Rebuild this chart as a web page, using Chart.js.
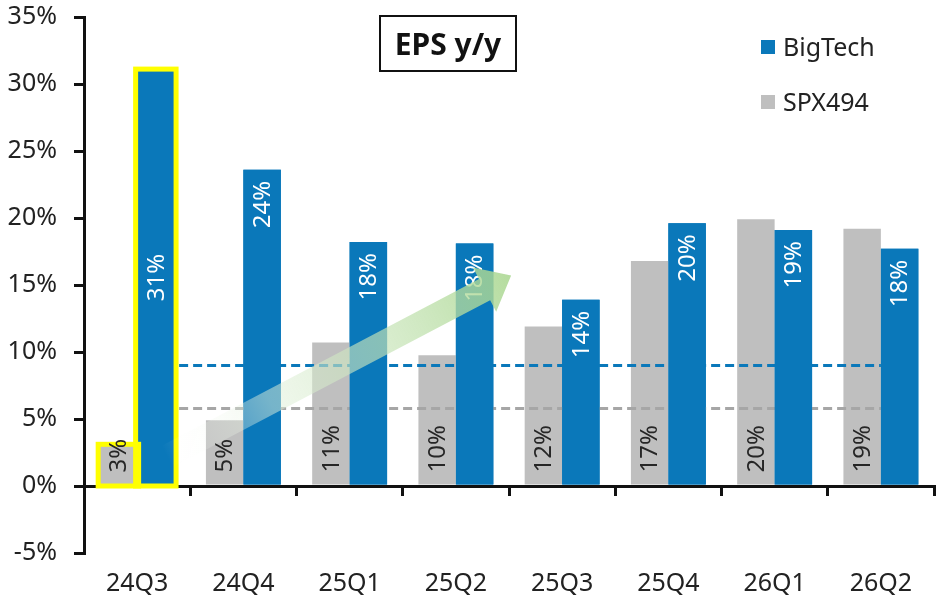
<!DOCTYPE html>
<html>
<head>
<meta charset="utf-8">
<script src="https://cdn.jsdelivr.net/npm/chart.js@4.4.1/dist/chart.umd.min.js"></script>
<style>
  html, body { margin: 0; padding: 0; background: #fff; }
  #wrap { position: relative; width: 938px; height: 597px; overflow: hidden; }
  canvas { display: block; }
  #title {
    position: absolute; left: 379px; top: 15px; width: 138px; height: 57px;
    box-sizing: border-box; border: 2px solid #111;
    display: flex; align-items: center; justify-content: center;
    font: bold 30px 'Noto Sans', sans-serif; color: #111; white-space: nowrap;
  }
  .sw { position: absolute; width: 14px; height: 14px; }
  .lt { position: absolute; font: 25px 'Noto Sans', sans-serif; color: #222; line-height: 30px; white-space: nowrap; }
</style>
</head>
<body>
<div id="wrap">
  <canvas id="c" width="938" height="597"></canvas>
  <div id="title">EPS y/y</div>
  <div class="sw" style="left:761px;top:40px;background:#0a78ba"></div>
  <div class="lt" style="left:783px;top:31px">BigTech</div>
  <div class="sw" style="left:761px;top:95px;background:#bfbfbf"></div>
  <div class="lt" style="left:783px;top:86px">SPX494</div>
</div>
<script>
// ---- data ----
const categories = ['24Q3', '24Q4', '25Q1', '25Q2', '25Q3', '25Q4', '26Q1', '26Q2'];
const spx494 = [3.0, 4.9, 10.7, 9.75, 11.9, 16.8, 19.9, 19.2];
const bigTech = [31.0, 23.6, 18.2, 18.1, 13.9, 19.6, 19.1, 17.7];
const bigTechAvg = 9.0;
const spx494Avg = 5.8;
const yTicks = { min: -5, max: 35, step: 5 };
const highlightIndex = 0;
const arrowFrom = { x: 0.28, y: 2.2 };
const arrowTo = { x: 3.52, y: 15.7 };

const FONT = "'Noto Sans', sans-serif";
const BLUE = '#0a78ba';
const GRAY = '#bfbfbf';

const overlay = {
  id: 'overlay',
  afterDatasetsDraw(chart) {
    const ctx = chart.ctx;
    const xs = chart.scales.x, ys = chart.scales.y;
    const grayMeta = chart.getDatasetMeta(0);
    const blueMeta = chart.getDatasetMeta(1);
    // average dashed lines (over gray bars, under blue bars)
    const x0 = xs.getPixelForValue(0), x1 = xs.getPixelForValue(categories.length - 1);
    ctx.save();
    ctx.lineWidth = 3;
    ctx.setLineDash([9, 5]);
    [[bigTechAvg, BLUE], [spx494Avg, '#a6a6a6']].forEach(([v, c]) => {
      const y = Math.round(ys.getPixelForValue(v)) + 0.5;
      ctx.strokeStyle = c;
      ctx.beginPath(); ctx.moveTo(x0, y); ctx.lineTo(x1, y); ctx.stroke();
    });
    ctx.restore();
    blueMeta.data.forEach(el => el.draw(ctx));
    // highlight frames
    ctx.save();
    ctx.strokeStyle = '#ffff00';
    ctx.lineWidth = 5;
    [grayMeta, blueMeta].forEach(m => {
      const el = m.data[highlightIndex];
      const w = el.width;
      ctx.strokeRect(el.x - w / 2 - 1.5, el.y - 1.5, w + 3, el.base - el.y + 3);
    });
    ctx.restore();
    // value labels
    ctx.save();
    ctx.font = '24px ' + FONT;
    ctx.textBaseline = 'middle';
    grayMeta.data.forEach((el, i) => {
      ctx.save();
      ctx.translate(el.x, el.base - 12);
      ctx.rotate(-Math.PI / 2);
      ctx.textAlign = 'left';
      ctx.fillStyle = '#262626';
      ctx.fillText(Math.round(spx494[i]) + '%', 0, 1);
      ctx.restore();
    });
    blueMeta.data.forEach((el, i) => {
      ctx.save();
      if (i === highlightIndex) {
        ctx.translate(el.x, (el.y + el.base) / 2);
        ctx.textAlign = 'center';
      } else {
        ctx.translate(el.x, el.y + 11);
        ctx.textAlign = 'right';
      }
      ctx.rotate(-Math.PI / 2);
      ctx.fillStyle = '#ffffff';
      ctx.fillText(Math.round(bigTech[i]) + '%', 0, 1);
      ctx.restore();
    });
    ctx.restore();
  },
  afterDraw(chart) {
    const ctx = chart.ctx;
    const xs = chart.scales.x, ys = chart.scales.y;
    const p0 = { x: xs.getPixelForValue(arrowFrom.x), y: ys.getPixelForValue(arrowFrom.y) };
    const p1 = { x: xs.getPixelForValue(arrowTo.x), y: ys.getPixelForValue(arrowTo.y) };
    const dx = p1.x - p0.x, dy = p1.y - p0.y;
    const len = Math.hypot(dx, dy);
    const ux = dx / len, uy = dy / len;
    const nx = -uy, ny = ux;
    const sw = 12, hw = 25, hl = 30;
    const b = { x: p1.x - ux * hl, y: p1.y - uy * hl };
    const g = ctx.createLinearGradient(p0.x, p0.y, p1.x, p1.y);
    g.addColorStop(0, 'rgba(255,255,255,0)');
    g.addColorStop(0.3, 'rgba(225,240,218,0.5)');
    g.addColorStop(1, 'rgba(168,214,142,0.85)');
    ctx.save();
    ctx.fillStyle = g;
    ctx.beginPath();
    ctx.moveTo(p0.x + nx * sw, p0.y + ny * sw);
    ctx.lineTo(b.x + nx * sw, b.y + ny * sw);
    ctx.lineTo(b.x + nx * hw, b.y + ny * hw);
    ctx.lineTo(p1.x, p1.y);
    ctx.lineTo(b.x - nx * hw, b.y - ny * hw);
    ctx.lineTo(b.x - nx * sw, b.y - ny * sw);
    ctx.lineTo(p0.x - nx * sw, p0.y - ny * sw);
    ctx.closePath();
    ctx.fill();
    ctx.restore();
  }
};

new Chart(document.getElementById('c'), {
  type: 'bar',
  data: {
    labels: categories,
    datasets: [
      { label: 'SPX494', data: spx494, backgroundColor: GRAY, xAxisID: 'x', yAxisID: 'y', barPercentage: 1.0, categoryPercentage: 0.705 },
      { label: 'BigTech', data: bigTech, backgroundColor: BLUE, xAxisID: 'x', yAxisID: 'y', barPercentage: 1.0, categoryPercentage: 0.705 }
    ]
  },
  options: {
    responsive: false,
    animation: false,
    layout: { padding: { top: 17, right: 4, left: 0, bottom: 0 } },
    plugins: { legend: { display: false }, title: { display: false }, tooltip: { enabled: false } },
    scales: {
      x: {
        type: 'category', offset: true,
        grid: { display: false }, border: { display: false },
        ticks: { font: { family: FONT, size: 25 }, color: '#222', padding: 8, maxRotation: 0, autoSkip: false },
        afterFit(s) { s.height = 44; }
      },
      x0: {
        type: 'category', position: { y: 0 }, offset: true,
        grid: { display: true, drawOnChartArea: false, drawTicks: true, tickLength: 8, color: '#111', lineWidth: 3, offset: true },
        border: { display: true, color: '#111', width: 3 },
        ticks: { display: false },
        afterFit(s) { s.paddingTop = 0; s.paddingBottom = 0; s.paddingLeft = 0; s.paddingRight = 0; }
      },
      y: {
        min: yTicks.min, max: yTicks.max,
        ticks: { stepSize: yTicks.step, callback: v => v + '%', font: { family: FONT, size: 25 }, color: '#222', padding: 17 },
        grid: { drawOnChartArea: false, drawTicks: true, tickLength: 10, color: '#111', lineWidth: 3 },
        border: { display: true, color: '#111', width: 3 },
        afterFit(s) { s.width = 84; s.paddingTop = 0; s.paddingBottom = 0; }
      }
    }
  },
  plugins: [overlay]
});
</script>
</body>
</html>
